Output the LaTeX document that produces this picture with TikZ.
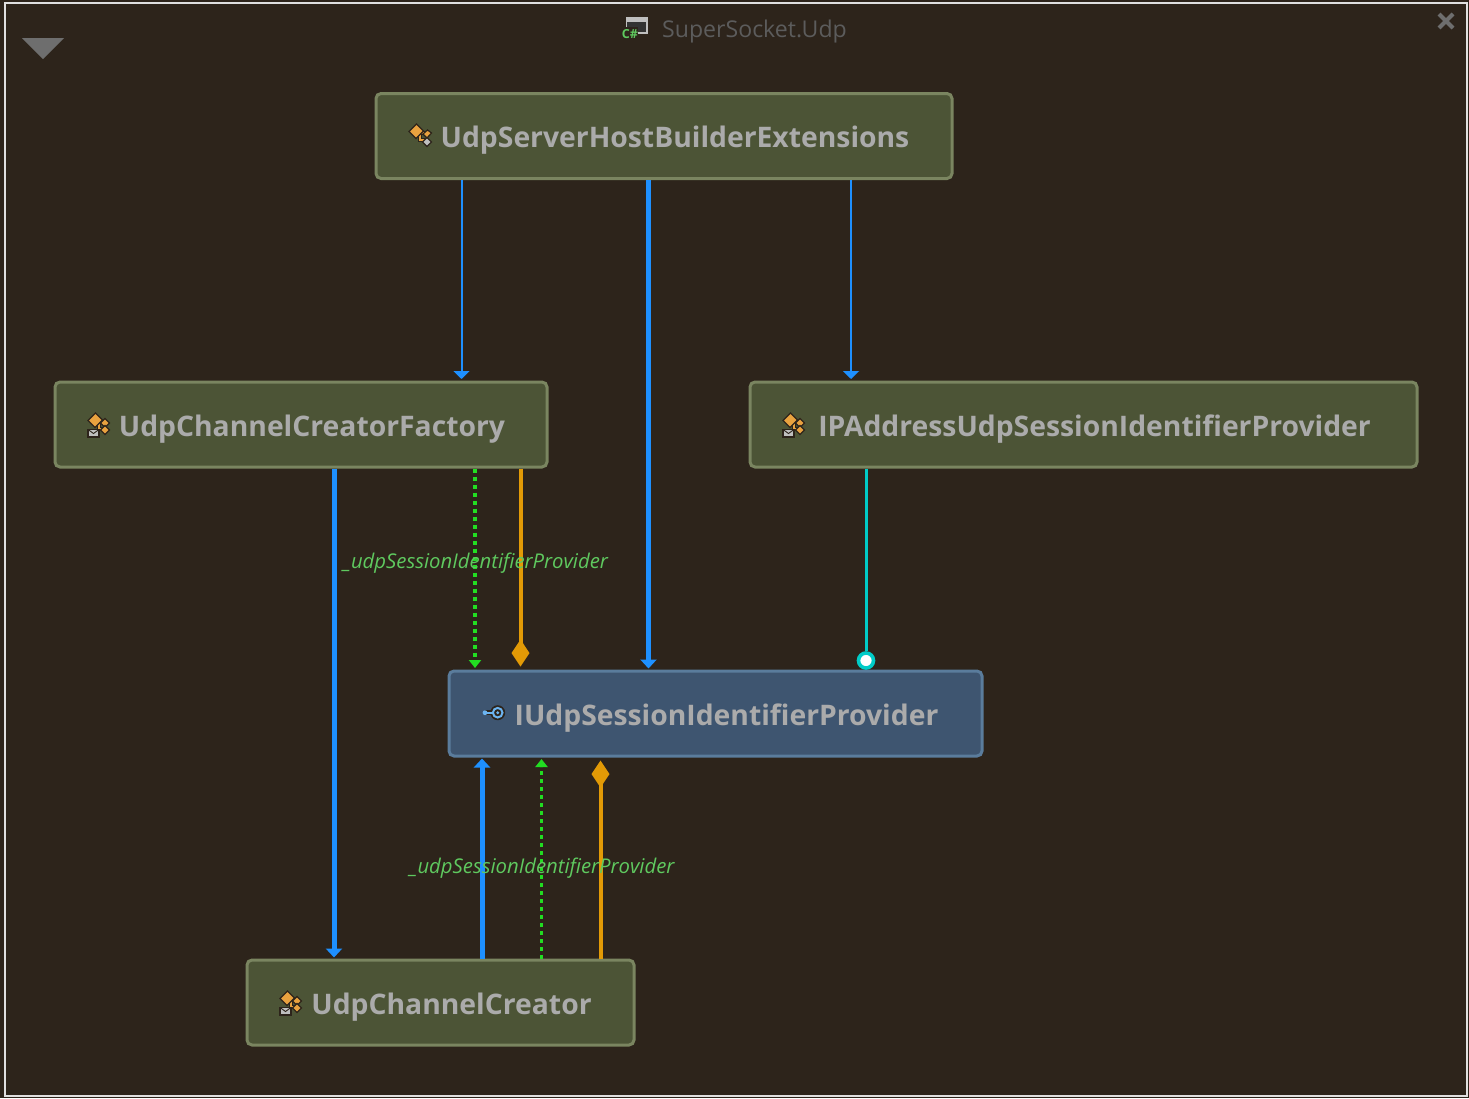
\documentclass[tikz,border=0pt]{standalone}
\usepackage{fontspec}
\setmainfont{Open Sans}
\newfontfamily\labfont[Scale=1]{Open Sans}
\usetikzlibrary{arrows.meta}
\definecolor{bgc}{HTML}{2D241B}
\definecolor{classfill}{HTML}{4C5436}
\definecolor{classedge}{HTML}{7A8560}
\definecolor{ifacefill}{HTML}{3E5570}
\definecolor{ifaceedge}{HTML}{5A7C9C}
\definecolor{txt}{HTML}{ABABAB}
\definecolor{linkblue}{HTML}{1E90FF}
\definecolor{linkgreen}{HTML}{22DD22}
\definecolor{linkorange}{HTML}{E29A06}
\definecolor{linkteal}{HTML}{00CCC8}
\definecolor{labgreen}{HTML}{5FC95F}
\definecolor{icono}{HTML}{E9A23F}
\definecolor{keyblue}{HTML}{6CB4F0}
\definecolor{chrome}{HTML}{6E6E6E}
\definecolor{titlegrey}{HTML}{5C5C5C}
\tikzset{
  x=1pt,y=-1pt,
  cbox/.style={draw=classedge,fill=classfill,line width=3pt,rounded corners=5pt,inner sep=0pt,
     minimum height=85pt,text=txt,text height=23pt,text depth=0pt,font=\bfseries\fontsize{28.3}{36}\selectfont},
  ibox/.style={cbox,draw=ifaceedge,fill=ifacefill},
  thinlink/.style={draw=linkblue,line width=2pt,-{Triangle[width=16pt,length=8pt]},shorten >=1.5pt},
  thicklink/.style={draw=linkblue,line width=5pt,-{Triangle[width=16pt,length=9pt]},shorten >=1pt},
  dotlink/.style={draw=linkgreen,line width=3.6pt,dash pattern=on 4pt off 4pt,-{Triangle[width=12pt,length=8pt]},shorten >=1.5pt},
  orlink/.style={draw=linkorange,line width=4pt,-{Kite[width=18pt,length=27pt,inset=13.5pt]},shorten >=3pt},
  telink/.style={draw=linkteal,line width=3pt},
  edgelab/.style={text=labgreen,font=\labfont\itshape\fontsize{20.3}{22}\selectfont,inner sep=0pt},
  tealdot/.style={circle,draw=linkteal,fill=white,line width=3.6pt,minimum size=15pt,inner sep=0pt},
  iconbody/.style={fill=icono,draw=bgc,line width=1.2pt},
}
\newcommand{\hgap}{\hspace*{22pt}}
% class icon with a small grey diamond
\newcommand{\iconplain}[2]{\begin{scope}[shift={(#1,#2)}]
  \draw[bgc,line width=3.4pt] (40,40) -- (50,40) (44,40) -- (44,47) -- (49,47);
  \draw[icono,line width=1.6pt] (40,40) -- (50,40) (44,40) -- (44,47) -- (49,47);
  \path[iconbody] (33,38.5) -- (40.5,31) -- (47.5,38) -- (40,45.5) -- cycle;
  \path[iconbody] (47,41) -- (51.5,37) -- (55.5,40) -- (51,45) -- cycle;
  \path[fill=lightgray,draw=bgc,line width=1.2pt] (46.5,49) -- (51,44.5) -- (55.5,49) -- (51,53.5) -- cycle;
\end{scope}}
% class icon with an envelope
\newcommand{\iconmail}[2]{\begin{scope}[shift={(#1,#2)}]
  \draw[bgc,line width=3.4pt] (40,40) -- (48,40) (44,40) -- (44,47) -- (49,47);
  \draw[icono,line width=1.6pt] (40,40) -- (48,40) (44,40) -- (44,47) -- (49,47);
  \path[iconbody] (33,38.5) -- (40.5,31) -- (47.5,38) -- (40,45.5) -- cycle;
  \path[iconbody] (45.5,41) -- (50,36.5) -- (54.5,41) -- (50,45.5) -- cycle;
  \path[iconbody] (45.5,48) -- (50,43.5) -- (54.5,48) -- (50,52.5) -- cycle;
  \path[fill=lightgray,draw=bgc,line width=1.1pt] (33,47.5) rectangle (44,55);
  \draw[bgc,line width=.9pt] (33,47.5) -- (38.5,51.5) -- (44,47.5);
\end{scope}}
\begin{document}
\begin{tikzpicture}
\useasboundingbox (0,0) rectangle (1469,1098);
\fill[bgc] (0,0) rectangle (1469,1098);
\draw[color=white!88!black,line width=2pt] (4.5,2.5) rectangle (1467,1095.5);

% chrome
\fill[chrome] (22,38) -- (64,38) -- (43,59) -- cycle;
\draw[chrome,line width=4pt] (1439,14) -- (1453,28) (1453,14) -- (1439,28);
\fill[black!80] (626,17) rectangle (647,33);
\draw[lightgray,line width=1.4pt] (626.5,17.5) rectangle (647,33);
\fill[lightgray] (626,17) rectangle (647,22);
\fill[bgc] (621,27) rectangle (638,40);
\node[text=labgreen,font=\bfseries\fontsize{12.5}{13}\selectfont,inner sep=0pt] (csharp) at (630,34) {C\#};
\node[anchor=west,text=titlegrey,font=\fontsize{23.1}{28}\selectfont,inner sep=0pt] (title) at (662,31.5) {SuperSocket.Udp};

% boxes
\node[cbox,minimum width=576pt] (hb) at (664,136) {\hgap UdpServerHostBuilderExtensions};
\node[cbox,minimum width=492pt] (cf) at (301,424.5) {\hgap UdpChannelCreatorFactory};
\node[cbox,minimum width=667pt] (ip) at (1083.5,424.5) {\hgap IPAddressUdpSessionIdentifierProvider};
\node[ibox,minimum width=533pt] (iu) at (715.5,713.5) {\hgap IUdpSessionIdentifierProvider};
\node[cbox,minimum width=387pt] (cc) at (440.5,1002.5) {\hgap UdpChannelCreator};

% icons
\iconplain{376}{93}
\iconmail{55}{382}
\iconmail{750}{382}
\iconmail{247}{960}
\draw[bgc,line width=5.5pt] (485,712.7) -- (495,712.7);
\fill[bgc] (497.7,712.7) circle (7.5);
\draw[keyblue,line width=1.8pt] (485,712.7) -- (493,712.7);
\fill[keyblue] (485,712.7) circle (2.4);
\draw[keyblue,line width=2pt] (497.7,712.7) circle (4.8);
\fill[keyblue] (497.7,712.7) circle (1.6);

% connectors
\draw[thinlink] (hb.south -| 461.5,0) -- (cf.north -| 461.5,0);
\draw[thinlink] (hb.south -| 851,0) -- (ip.north -| 851,0);
\draw[thicklink] (hb.south -| 648.5,0) -- (iu.north -| 648.5,0);
\draw[thicklink] (cf.south -| 334,0) -- (cc.north -| 334,0);
\draw[dotlink] (cf.south -| 475,0) -- (iu.north -| 475,0);
\draw[orlink] (cf.south -| 520.5,0) -- (iu.north -| 520.5,0);
\node[tealdot] (tip) at (866,660.5) {};
\draw[telink] (ip.south -| 866,0) -- (tip);
\draw[thicklink] (cc.north -| 482,0) -- (iu.south -| 482,0);
\draw[dotlink] (cc.north -| 541.5,0) -- (iu.south -| 541.5,0);
\draw[orlink] (cc.north -| 600.5,0) -- (iu.south -| 600.5,0);

% labels
\node[edgelab] (lab1) at (475.5,563) {\_udpSessionIdentifierProvider};
\node[edgelab] (lab2) at (542,868) {\_udpSessionIdentifierProvider};
\end{tikzpicture}
\end{document}
